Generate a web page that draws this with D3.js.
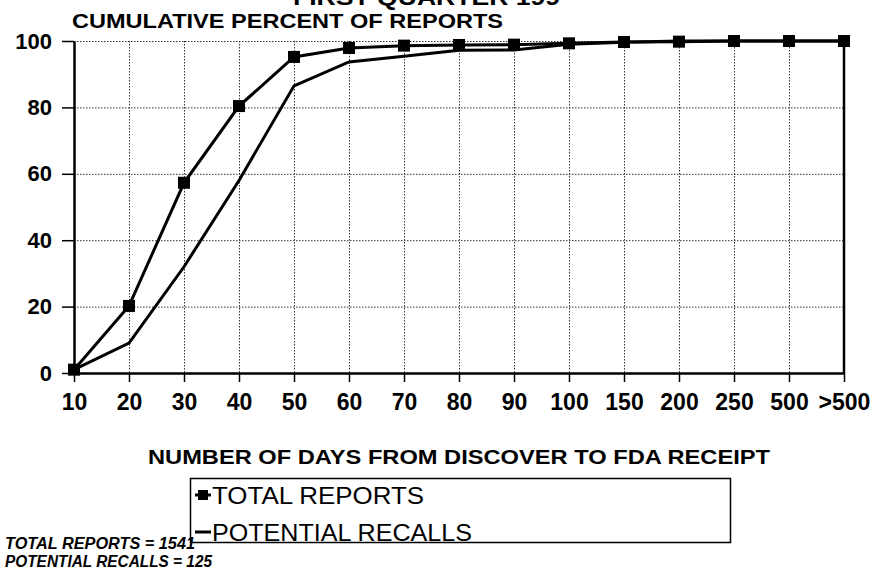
<!DOCTYPE html>
<html>
<head>
<meta charset="utf-8">
<script src="https://cdn.jsdelivr.net/npm/d3@7"></script>
<style>
    body { margin: 0; background: #fff; }
    svg { display: block; font-family: 'Liberation Sans', Arial, sans-serif; }
</style>
</head>
<body>
<svg id="chart" width="873" height="578"></svg>
<script>
// categories (days from discover to FDA receipt)
const days = ['10', '20', '30', '40', '50', '60', '70', '80', '90', '100', '150', '200', '250', '500', '>500'];
// cumulative percent of reports
const totalReports = [1, 20.2, 57.3, 80.4, 95.2, 97.9, 98.6, 98.8, 98.9, 99.3, 99.7, 99.8, 100, 100, 100];
const potentialRecalls = [1, 9, 32, 58, 86.5, 93.7, 95.4, 97.2, 97.3, 99.0, 99.6, 100, 100, 100, 100];
const yTicks = [0, 20, 40, 60, 80, 100];
const seriesNames = ['TOTAL REPORTS', 'POTENTIAL RECALLS'];
const counts = [1541, 125];

const svg = d3.select('#chart');

const x = d3.scalePoint().domain(days).range([74, 844]);
const y = d3.scaleLinear().domain([0, 100]).range([373, 41]);

// heading at the very top, cut off by the page edge as in the scan
svg.append('text')
    .attr('x', 293)
    .attr('y', 5)
    .attr('font-size', 22)
    .attr('font-weight', 'bold')
    .attr('textLength', 267)
    .attr('lengthAdjust', 'spacingAndGlyphs')
    .text('FIRST QUARTER 199');

svg.append('text')
    .attr('x', 72)
    .attr('y', 28)
    .attr('font-size', 21)
    .attr('font-weight', 'bold')
    .attr('textLength', 431)
    .attr('lengthAdjust', 'spacingAndGlyphs')
    .text('CUMULATIVE PERCENT OF REPORTS');

// grid
const grid = svg.append('g').attr('class', 'grid')
    .attr('stroke', '#333')
    .attr('stroke-width', 1)
    .attr('stroke-dasharray', '1.5,1.5');
grid.selectAll('line.v')
    .data(days.slice(1, -1))
    .enter()
    .append('line')
    .attr('x1', (d) => x(d) + 0.5)
    .attr('x2', (d) => x(d) + 0.5)
    .attr('y1', y(100))
    .attr('y2', y(0));
grid.selectAll('line.h')
    .data(yTicks.slice(1))
    .enter()
    .append('line')
    .attr('x1', x(days[0]))
    .attr('x2', x(days[days.length - 1]))
    .attr('y1', (d) => y(d) + 0.5)
    .attr('y2', (d) => y(d) + 0.5);

// axes
const yAxis = svg.append('g')
    .attr('transform', `translate(${x(days[0])},0)`)
    .call(d3.axisLeft(y).tickValues(yTicks).tickSize(12).tickSizeOuter(0).tickPadding(10));
const xAxis = svg.append('g')
    .attr('transform', `translate(0,${y(0)})`)
    .call(d3.axisBottom(x).tickSize(9).tickSizeOuter(0).tickPadding(12));

[yAxis, xAxis].forEach((ax) => {
    ax.select('.domain').attr('stroke', '#000').attr('stroke-width', 2.5);
    ax.selectAll('.tick line').attr('stroke', '#000').attr('stroke-width', 1.5);
    ax.selectAll('.tick text')
        .attr('fill', '#000')
        .attr('font-family', "'Liberation Sans', Arial, sans-serif")
        .attr('font-weight', 'bold');
});
yAxis.selectAll('.tick text').attr('font-size', 22);
xAxis.selectAll('.tick text').attr('font-size', 23);

// right border
svg.append('line')
    .attr('x1', x(days[days.length - 1]))
    .attr('x2', x(days[days.length - 1]))
    .attr('y1', y(100))
    .attr('y2', y(0))
    .attr('stroke', '#000')
    .attr('stroke-width', 2.5);

// series lines
const line = d3.line()
    .x((d, i) => x(days[i]))
    .y((d) => y(d));

svg.append('path')
    .datum(potentialRecalls)
    .attr('fill', 'none')
    .attr('stroke', '#000')
    .attr('stroke-width', 3)
    .attr('d', line);

svg.append('path')
    .datum(totalReports)
    .attr('fill', 'none')
    .attr('stroke', '#000')
    .attr('stroke-width', 3)
    .attr('d', line);

svg.append('g')
    .selectAll('rect')
    .data(totalReports)
    .enter()
    .append('rect')
    .attr('x', (d, i) => x(days[i]) - 6)
    .attr('y', (d) => y(d) - 6)
    .attr('width', 12)
    .attr('height', 12)
    .attr('fill', '#000');

// x axis title
svg.append('text')
    .attr('x', 459)
    .attr('y', 464)
    .attr('text-anchor', 'middle')
    .attr('font-size', 21)
    .attr('font-weight', 'bold')
    .attr('textLength', 622)
    .attr('lengthAdjust', 'spacingAndGlyphs')
    .text('NUMBER OF DAYS FROM DISCOVER TO FDA RECEIPT');

// legend
const legend = svg.append('g');
legend.append('rect')
    .attr('x', 190.5)
    .attr('y', 478.5)
    .attr('width', 540)
    .attr('height', 64)
    .attr('fill', '#fff')
    .attr('stroke', '#000')
    .attr('stroke-width', 1.5);

const legendY = [495, 532];
legend.selectAll('line')
    .data(seriesNames)
    .enter()
    .append('line')
    .attr('x1', 195)
    .attr('x2', 211)
    .attr('y1', (d, i) => legendY[i])
    .attr('y2', (d, i) => legendY[i])
    .attr('stroke', '#000')
    .attr('stroke-width', 3);
legend.append('rect')
    .attr('x', 198)
    .attr('y', legendY[0] - 5)
    .attr('width', 10)
    .attr('height', 10)
    .attr('fill', '#000');
legend.selectAll('text')
    .data(seriesNames)
    .enter()
    .append('text')
    .attr('x', 212)
    .attr('y', (d, i) => legendY[i] + 9)
    .attr('font-size', 24)
    .attr('textLength', (d, i) => [212, 260][i])
    .attr('lengthAdjust', 'spacingAndGlyphs')
    .text((d) => d);

// counts note, bottom left
svg.append('g')
    .selectAll('text')
    .data(seriesNames)
    .enter()
    .append('text')
    .attr('x', 5)
    .attr('y', (d, i) => 549 + i * 18)
    .attr('font-size', 16)
    .attr('font-weight', 'bold')
    .attr('font-style', 'italic')
    .attr('textLength', (d, i) => [190, 207][i])
    .attr('lengthAdjust', 'spacingAndGlyphs')
    .text((d, i) => `${d} = ${counts[i]}`);
</script>
</body>
</html>
